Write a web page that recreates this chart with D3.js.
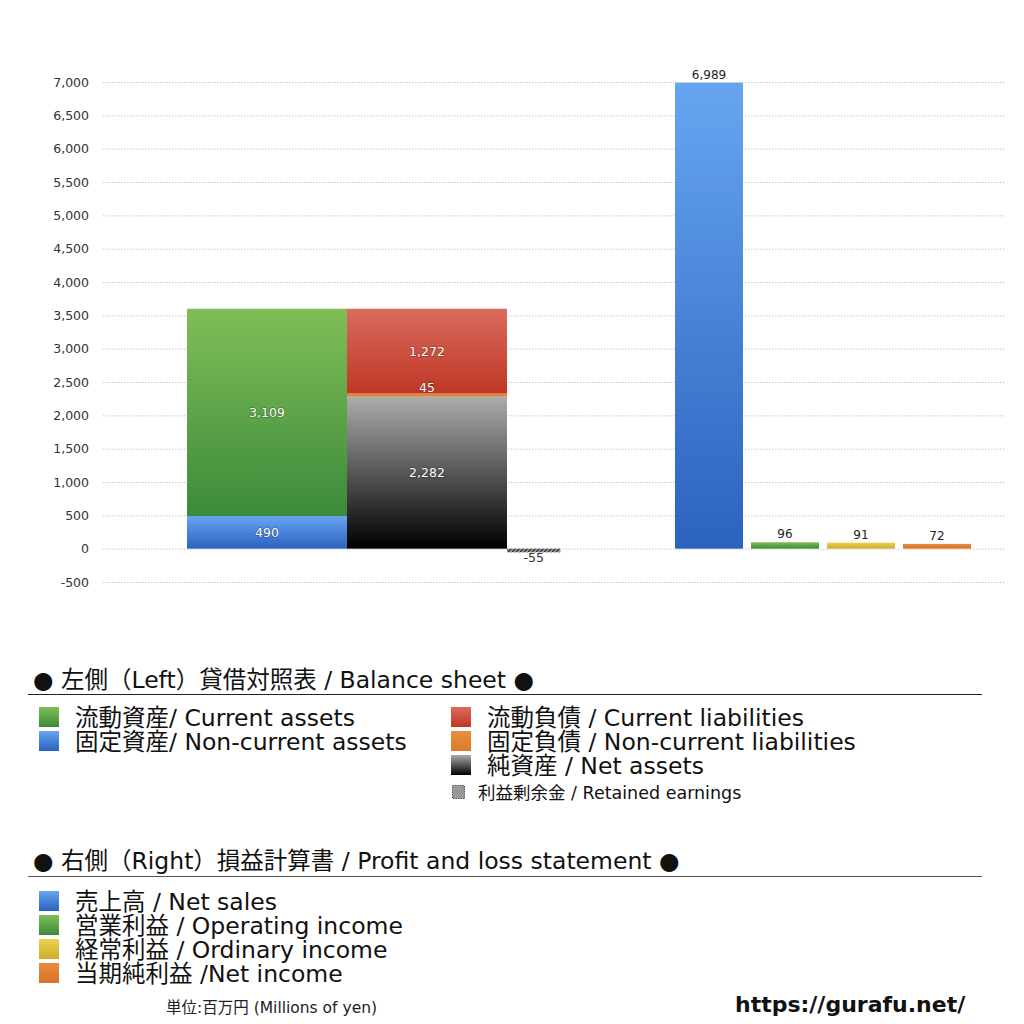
<!DOCTYPE html>
<html><head><meta charset="utf-8">
<script src="https://cdn.jsdelivr.net/npm/d3@7"></script>
<style>
html,body{margin:0;padding:0;background:#fff;}
text{font-family:"DejaVu Sans","Noto Sans CJK JP",sans-serif;}
</style></head>
<body>
<svg id="chart" width="1024" height="1024"></svg>
<script>
// ---- data ----
const yTicks = [-500,0,500,1000,1500,2000,2500,3000,3500,4000,4500,5000,5500,6000,6500,7000];
const bsColumns = ["assets","liabilities"];
const assetsNames = ["固定資産","流動資産"];
const assetsValues = [490, 3109];
const liabNames = ["純資産","固定負債","流動負債"];
const liabValues = [2282, 45, 1272];
const retainedEarnings = -55;
const plNames = ["売上高","営業利益","経常利益","当期純利益"];
const plValues = [6989, 96, 91, 72];

const bsLegendLeft = ["流動資産/ Current assets","固定資産/ Non-current assets"];
const bsLegendRight = ["流動負債 /  Current liabilities","固定負債 / Non-current liabilities","純資産 / Net assets"];
const plLegend = ["売上高 / Net sales","営業利益 / Operating income","経常利益 / Ordinary income","当期純利益 /Net income"];

// ---- setup ----
const svg = d3.select("#chart");
const defs = svg.append("defs");
const fmt = d3.formatLocale({decimal:".",thousands:",",grouping:[3],currency:["",""],minus:"-"}).format(",");
function grad(id, top, bottom){
  const g = defs.append("linearGradient").attr("id",id).attr("x1",0).attr("y1",0).attr("x2",0).attr("y2",1);
  g.append("stop").attr("offset","0%").attr("stop-color",top);
  g.append("stop").attr("offset","100%").attr("stop-color",bottom);
}
grad("gGreen","#80be58","#3b8a3a");
grad("gBlue","#67a5f0","#2b62bf");
grad("gRed","#db6b5e","#bf3624");
grad("gOrange","#e8903e","#d97a2a");
grad("gBlack","#acacac","#000000");
grad("gYellow","#ecd050","#cfae2c");
grad("gOrange2","#e88a3c","#d6722a");
const pat = defs.append("pattern").attr("id","hatch").attr("width",4).attr("height",4).attr("patternUnits","userSpaceOnUse");
pat.append("rect").attr("width",4).attr("height",4).attr("fill","#999");
pat.append("path").attr("d","M0,4 L4,0").attr("stroke","#222").attr("stroke-width",1.2);

const y = d3.scaleLinear().domain([-500,7000]).range([582,82]);
const gridX0 = 103, gridX1 = 1005;

// grid + ticks
const yAxis = d3.axisLeft(y).tickValues(yTicks).tickFormat(fmt).tickSize(-(gridX1-gridX0)).tickPadding(14);
const ag = svg.append("g").attr("transform",`translate(${gridX0},0)`).call(yAxis);
ag.select(".domain").remove();
ag.selectAll(".tick line").attr("stroke","#bbb").attr("stroke-dasharray","1.5,1.5").attr("stroke-width",0.8);
ag.selectAll(".tick text").attr("font-size",12.5).attr("fill","#333").attr("x",-14)
  .style("font-family","'DejaVu Sans',sans-serif");

// balance sheet
const xb = d3.scaleBand().domain(bsColumns).range([187,507]).padding(0);
const assetFills = ["url(#gBlue)","url(#gGreen)"];
const liabFills = ["url(#gBlack)","url(#gOrange)","url(#gRed)"];
function stack(vals){let c=0;return vals.map(v=>{const s={y0:c,y1:c+v,v};c+=v;return s;});}
const aStack = stack(assetsValues), lStack = stack(liabValues);
const gb = svg.append("g");
gb.selectAll("rect.a").data(aStack).join("rect")
  .attr("x",xb("assets")).attr("width",xb.bandwidth())
  .attr("y",d=>y(d.y1)).attr("height",d=>y(d.y0)-y(d.y1))
  .attr("fill",(d,i)=>assetFills[i]);
gb.selectAll("rect.l").data(lStack).join("rect")
  .attr("x",xb("liabilities")).attr("width",xb.bandwidth())
  .attr("y",d=>y(d.y1)).attr("height",d=>y(d.y0)-y(d.y1))
  .attr("fill",(d,i)=>liabFills[i]);
const inLabel = (sel)=>sel.attr("text-anchor","middle").attr("font-size",12.5).attr("fill","#fff")
  .style("font-family","'DejaVu Sans',sans-serif")
  .style("paint-order","stroke").attr("stroke","rgba(0,0,0,0.25)").attr("stroke-width",1.5);
gb.selectAll("text.a").data(aStack).join("text")
  .attr("x",xb("assets")+xb.bandwidth()/2)
  .attr("y",d=>(y(d.y0)+y(d.y1))/2+4.5).text(d=>fmt(d.v)).call(inLabel);
gb.selectAll("text.l").data(lStack).join("text")
  .attr("x",xb("liabilities")+xb.bandwidth()/2)
  .attr("y",(d,i)=> i===1 ? y(d.y1)-2 : (y(d.y0)+y(d.y1))/2+4.5)
  .text(d=>fmt(d.v)).call(inLabel);
// retained earnings
const reX = xb("liabilities")+xb.bandwidth(), reW = xb.bandwidth()/3;
gb.append("rect").attr("x",reX).attr("width",reW)
  .attr("y",y(Math.max(0,retainedEarnings))).attr("height",Math.abs(y(retainedEarnings)-y(0)))
  .attr("fill","url(#hatch)");
gb.append("text").attr("x",reX+reW/2).attr("y",y(retainedEarnings)+10)
  .attr("text-anchor","middle").attr("font-size",12.5).attr("fill","#333")
  .style("font-family","'DejaVu Sans',sans-serif")
  .text(fmt(retainedEarnings));

// profit & loss
const xp = d3.scaleBand().domain(plNames).range([671,975]).paddingInner(8/76).paddingOuter(4/76);
const plFills = ["url(#gBlue)","url(#gGreen)","url(#gYellow)","url(#gOrange2)"];
const gp = svg.append("g");
gp.selectAll("rect").data(plValues).join("rect")
  .attr("x",(d,i)=>xp(plNames[i])).attr("width",xp.bandwidth())
  .attr("y",d=>y(d)).attr("height",d=>y(0)-y(d))
  .attr("fill",(d,i)=>plFills[i]);
gp.selectAll("text").data(plValues).join("text")
  .attr("x",(d,i)=>xp(plNames[i])+xp.bandwidth()/2).attr("y",d=>y(d)-4)
  .attr("text-anchor","middle").attr("font-size",12).attr("fill","#222")
  .style("font-family","'DejaVu Sans',sans-serif")
  .text(d=>fmt(d));

// ---- legends ----
const FS = 23.5;
const lg = svg.append("g");
lg.append("text").attr("x",33).attr("y",688).attr("font-size",FS).attr("fill","#111")
  .text("● 左側（Left）貸借対照表 / Balance sheet ●");
lg.append("line").attr("x1",28).attr("x2",982).attr("y1",694.5).attr("y2",694.5).attr("stroke","#222").attr("stroke-width",1.2);
const bsLFills = ["url(#gGreen)","url(#gBlue)"];
bsLegendLeft.forEach((t,i)=>{
  lg.append("rect").attr("x",39).attr("y",707+i*24).attr("width",20).attr("height",20).attr("fill",bsLFills[i]);
  lg.append("text").attr("x",75).attr("y",726+i*24).attr("font-size",FS).attr("fill","#111").text(t);
});
const bsRFills = ["url(#gRed)","url(#gOrange)","url(#gBlack)"];
bsLegendRight.forEach((t,i)=>{
  lg.append("rect").attr("x",451).attr("y",707+i*24).attr("width",20).attr("height",20).attr("fill",bsRFills[i]);
  lg.append("text").attr("x",487).attr("y",726+i*24).attr("font-size",FS).attr("fill","#111").text(t);
});
lg.append("rect").attr("x",452.5).attr("y",785.5).attr("width",12).attr("height",13)
  .attr("fill","#999").attr("stroke","#333").attr("stroke-dasharray","1.5,1").attr("stroke-width",0.8);
lg.append("text").attr("x",478).attr("y",799).attr("font-size",17.5).attr("fill","#111").text("利益剰余金 / Retained earnings");

lg.append("text").attr("x",33).attr("y",869).attr("font-size",FS).attr("fill","#111")
  .text("● 右側（Right）損益計算書 / Profit and loss statement ●");
lg.append("line").attr("x1",28).attr("x2",982).attr("y1",876.5).attr("y2",876.5).attr("stroke","#555").attr("stroke-width",1.2);
const plLFills = ["url(#gBlue)","url(#gGreen)","url(#gYellow)","url(#gOrange2)"];
plLegend.forEach((t,i)=>{
  lg.append("rect").attr("x",39).attr("y",891+i*24).attr("width",20).attr("height",20).attr("fill",plLFills[i]);
  lg.append("text").attr("x",75).attr("y",910+i*24).attr("font-size",FS).attr("fill","#111").text(t);
});
lg.append("text").attr("x",166).attr("y",1013).attr("font-size",15.5).attr("fill","#222").text("単位:百万円 (Millions of yen)");
lg.append("text").attr("x",735).attr("y",1012).attr("font-size",22).attr("font-weight","bold").attr("fill","#111")
  .text("https://gurafu.net/");
</script>
</body></html>
